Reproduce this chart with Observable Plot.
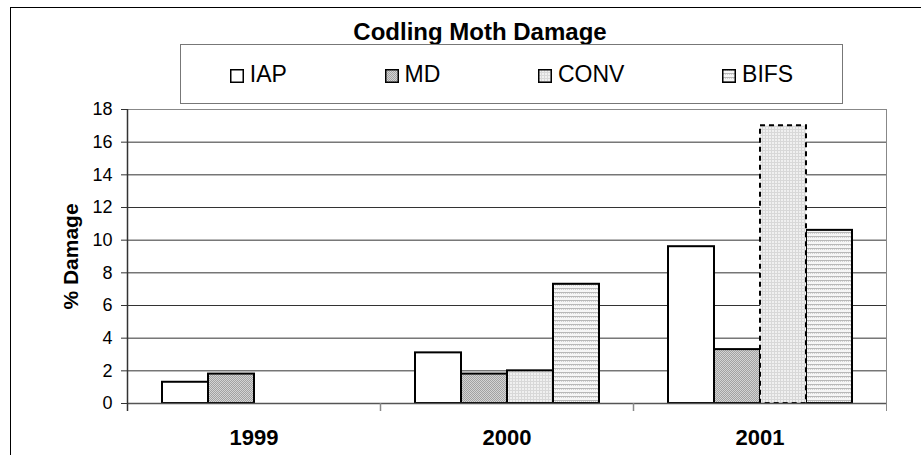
<!DOCTYPE html>
<html><head><meta charset="utf-8">
<script src="https://cdn.jsdelivr.net/npm/d3@7"></script>
<script src="https://cdn.jsdelivr.net/npm/@observablehq/plot@0.6"></script>
<style>
html,body{margin:0;padding:0;background:#fff;overflow:hidden;}
#wrap{position:relative;width:921px;height:455px;font-family:"Liberation Sans",Arial,sans-serif;color:#000;}
#chart{position:absolute;left:0;top:0;}
#frame{position:absolute;left:10px;top:7px;width:2000px;height:2000px;border-left:1.5px solid #000;border-top:1.5px solid #000;pointer-events:none;}
#title{position:absolute;left:480px;top:20px;transform:translateX(-50%);font-weight:bold;font-size:24px;line-height:24px;white-space:nowrap;}
#legend{position:absolute;left:180px;top:44px;width:661px;height:58px;border:1px solid #777;background:#fff;display:flex;justify-content:space-around;align-items:center;font-size:23px;}
.item{display:flex;align-items:center;}
.item svg{margin-right:6px;margin-top:3px;}
</style></head>
<body>
<svg width="0" height="0" style="position:absolute">
  <defs>
    <pattern id="pMD" patternUnits="userSpaceOnUse" width="2" height="2">
      <rect width="2" height="2" fill="#d4d4d4"/>
      <rect x="0" y="0" width="1" height="1" fill="#a2a2a2"/>
      <rect x="1" y="1" width="1" height="1" fill="#a2a2a2"/>
    </pattern>
    <pattern id="pCONV" patternUnits="userSpaceOnUse" width="3" height="3">
      <rect width="3" height="3" fill="#f0f0f0"/>
      <rect x="0" y="0" width="3" height="1" fill="#d8d8d8"/>
      <rect x="0" y="0" width="1" height="3" fill="#d8d8d8"/>
    </pattern>
    <pattern id="pBIFS" patternUnits="userSpaceOnUse" width="4" height="4">
      <rect width="4" height="4" fill="#f6f6f6"/>
      <rect x="0" y="0" width="4" height="1" fill="#b8b8b8"/>
      <rect x="1" y="1" width="1" height="1" fill="#d2d2d2"/>
      <rect x="3" y="1" width="1" height="1" fill="#d2d2d2"/>
    </pattern>
  </defs>
</svg>
<div id="wrap">
  <div id="chart"></div>
  <div id="title"></div>
  <div id="legend"></div>
  <div id="frame"></div>
</div>
<script>
const title = "Codling Moth Damage";
const yLabel = "% Damage";
const years = ["1999", "2000", "2001"];
const seriesNames = ["IAP", "MD", "CONV", "BIFS"];
const iap  = [1.3, 3.1, 9.6];
const md   = [1.8, 1.8, 3.3];
const conv = [null, 2.0, 17.0];
const bifs = [null, 7.3, 10.6];
const yTicks = [0, 2, 4, 6, 8, 10, 12, 14, 16, 18];

const fills = ["#ffffff", "url(#pMD)", "url(#pCONV)", "url(#pBIFS)"];
const seriesValues = [iap, md, conv, bifs];
const rows = [];
seriesNames.forEach((s, si) => {
  years.forEach((yr, yi) => {
    const v = seriesValues[si][yi];
    if (v != null) rows.push({year: yr, series: s, value: v, dashed: s === "CONV" && yr === "2001"});
  });
});

document.getElementById("title").textContent = title;
const legend = document.getElementById("legend");
seriesNames.forEach((s, i) => {
  const item = document.createElement("div");
  item.className = "item";
  item.innerHTML = `<svg width="14" height="14"><rect x="0.75" y="0.75" width="12.5" height="12.5" fill="${fills[i]}" stroke="#000" stroke-width="1.5"/></svg><span>${s}</span>`;
  legend.appendChild(item);
});

const plot = Plot.plot({
  width: 921, height: 455,
  marginLeft: 126, marginRight: 35, marginTop: 109, marginBottom: 52,
  style: {background: "transparent", fontFamily: "'Liberation Sans', Arial, sans-serif", color: "#000"},
  fx: {domain: years, padding: 0},
  x: {domain: seriesNames, paddingInner: 0, paddingOuter: 0.75, axis: null},
  y: {domain: [0, 18]},
  color: {domain: seriesNames, range: fills},
  marks: [
    Plot.gridY(yTicks.filter(t => t > 0 && t < 18), {stroke: "#333", strokeOpacity: 1}),
    Plot.ruleY([18], {stroke: "#888"}),
    Plot.barY(rows.filter(d => !d.dashed), {fx: "year", x: "series", y: "value", fill: "series", stroke: "#000", strokeWidth: 2}),
    Plot.barY(rows.filter(d => d.dashed), {fx: "year", x: "series", y: "value", fill: "series", stroke: "#000", strokeWidth: 2, strokeDasharray: "5,4"}),
    Plot.ruleY([0], {stroke: "#555", strokeWidth: 1.5}),
    Plot.axisY(yTicks, {tickSize: 6, tickPadding: 9, fontSize: 18, label: null, stroke: "#333"}),
    Plot.axisY({ticks: [], label: yLabel, labelArrow: "none", labelAnchor: "center", labelOffset: 64, fontSize: 21, fontWeight: "bold"}),
    Plot.axisFx({anchor: "bottom", tickSize: 0, tickPadding: 26, fontSize: 22, fontWeight: "bold", label: null})
  ]
});
document.getElementById("chart").appendChild(plot);

// frame edges from the library's own scales
const fx = plot.scale("fx");
const y = plot.scale("y");
const yTop = y.apply(18), yBot = y.apply(0);
const edges = years.map(d => fx.apply(d)).concat([fx.apply(years[years.length - 1]) + fx.bandwidth]);
const g = d3.select(plot).append("g");
edges.forEach((e, i) => {
  const x = Math.round(e) + 0.5;
  if (i === 0) {
    g.append("line").attr("x1", x).attr("x2", x).attr("y1", yTop).attr("y2", yBot + 8).attr("stroke", "#333").attr("stroke-width", 1.5);
  } else if (i === edges.length - 1) {
    g.append("line").attr("x1", x).attr("x2", x).attr("y1", yTop).attr("y2", yBot + 8).attr("stroke", "#888");
  } else {
    g.append("line").attr("x1", x).attr("x2", x).attr("y1", yBot).attr("y2", yBot + 8).attr("stroke", "#888").attr("stroke-width", 1.5);
  }
});
</script>
</body></html>
